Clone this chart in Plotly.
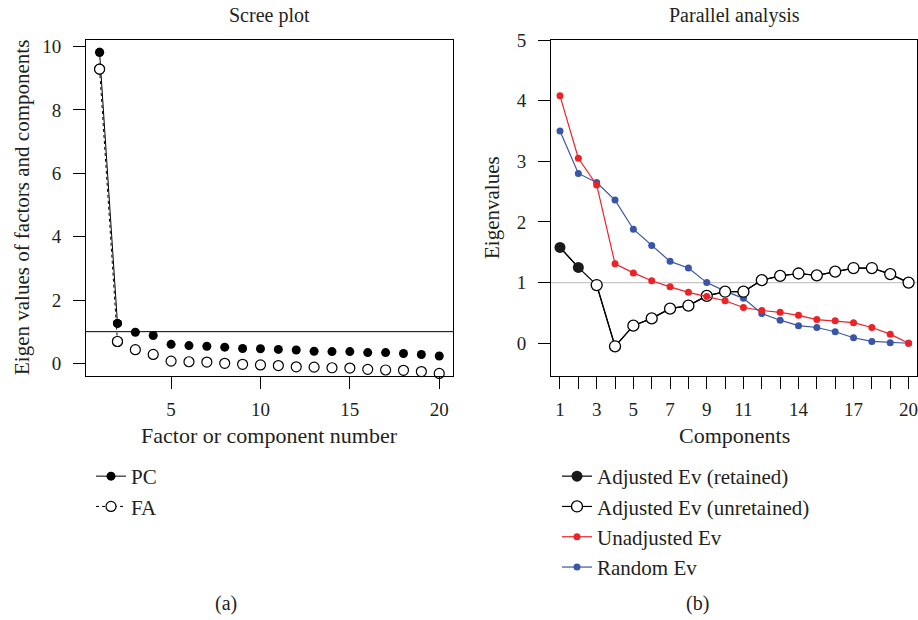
import plotly.graph_objects as go

# ---------------- data ----------------
factor_num = list(range(1, 21))
pc_values = [9.82, 1.26, 0.98, 0.88, 0.60, 0.56, 0.54, 0.51, 0.47, 0.46,
             0.44, 0.42, 0.38, 0.37, 0.37, 0.34, 0.34, 0.31, 0.28, 0.23]
fa_values = [9.29, 0.69, 0.43, 0.28, 0.07, 0.05, 0.04, 0.00, -0.03, -0.05,
             -0.07, -0.11, -0.12, -0.14, -0.15, -0.19, -0.21, -0.22, -0.26, -0.32]

components = list(range(1, 21))
adjusted_ev = [1.58, 1.25, 0.96, -0.05, 0.29, 0.41, 0.57, 0.62, 0.78, 0.85,
               0.85, 1.04, 1.11, 1.15, 1.12, 1.18, 1.24, 1.24, 1.14, 1.00]
n_retained = 2
unadjusted_ev = [4.08, 3.05, 2.61, 1.31, 1.16, 1.03, 0.93, 0.84, 0.77, 0.70,
                 0.59, 0.54, 0.51, 0.46, 0.39, 0.37, 0.34, 0.26, 0.15, 0.00]
random_ev = [3.50, 2.80, 2.65, 2.36, 1.88, 1.61, 1.35, 1.24, 1.00, 0.86,
             0.74, 0.49, 0.38, 0.29, 0.26, 0.19, 0.09, 0.03, 0.01, 0.00]

scree_yticks = [0, 2, 4, 6, 8, 10]
scree_xticks = [5, 10, 15, 20]
pa_yticks = [0, 1, 2, 3, 4, 5]
pa_xtick_labels = ["1", "", "3", "", "5", "", "7", "", "9", "", "11", "", "",
                   "14", "", "", "17", "", "", "20"]

# ---------------- style ----------------
FONT = "Liberation Serif"
TXT = "#231f20"
RED = "#ec2227"
BLUE = "#3a55a5"
W, H = 918, 620


def px(x):
    return x / W


def py(y):
    return (H - y) / H


fig = go.Figure()

# ---- Scree plot (left) ----
fig.add_trace(go.Scatter(
    x=factor_num[:2], y=fa_values[:2], mode="lines+markers", name="FA",
    line=dict(color="black", width=1, dash="dot"),
    marker=dict(symbol="circle", size=10, color="white", line=dict(width=1.2, color="black")),
    xaxis="x", yaxis="y", legend="legend", legendrank=2, cliponaxis=False))
fig.add_trace(go.Scatter(
    x=factor_num[:2], y=pc_values[:2], mode="lines+markers", name="PC",
    line=dict(color="black", width=1),
    marker=dict(symbol="circle", size=9, color="black"),
    xaxis="x", yaxis="y", legend="legend", legendrank=1, cliponaxis=False))
fig.add_trace(go.Scatter(
    x=factor_num, y=fa_values, mode="markers", showlegend=False,
    marker=dict(symbol="circle", size=10, color="white", line=dict(width=1.2, color="black")),
    xaxis="x", yaxis="y", cliponaxis=False))
fig.add_trace(go.Scatter(
    x=factor_num, y=pc_values, mode="markers", showlegend=False,
    marker=dict(symbol="circle", size=9, color="black"),
    xaxis="x", yaxis="y", cliponaxis=False))

# ---- Parallel analysis (right) ----
fig.add_trace(go.Scatter(
    x=components, y=random_ev, mode="lines+markers", name="Random Ev",
    line=dict(color=BLUE, width=1.2), marker=dict(size=7, color=BLUE),
    xaxis="x2", yaxis="y2", legend="legend2", legendrank=4))
fig.add_trace(go.Scatter(
    x=components, y=adjusted_ev, mode="lines", showlegend=False,
    line=dict(color="black", width=1.2), xaxis="x2", yaxis="y2"))
fig.add_trace(go.Scatter(
    x=components[n_retained:], y=adjusted_ev[n_retained:], mode="lines+markers",
    name="Adjusted Ev (unretained)",
    line=dict(color="black", width=1.2),
    marker=dict(symbol="circle", size=11, color="white", line=dict(width=1.3, color="black")),
    xaxis="x2", yaxis="y2", legend="legend2", legendrank=2))
fig.add_trace(go.Scatter(
    x=components[:n_retained], y=adjusted_ev[:n_retained], mode="lines+markers",
    name="Adjusted Ev (retained)",
    line=dict(color="black", width=1.2),
    marker=dict(symbol="circle", size=11, color="#1a1a1a"),
    xaxis="x2", yaxis="y2", legend="legend2", legendrank=1))
fig.add_trace(go.Scatter(
    x=components, y=unadjusted_ev, mode="lines+markers", name="Unadjusted Ev",
    line=dict(color=RED, width=1.2), marker=dict(size=7, color=RED),
    xaxis="x2", yaxis="y2", legend="legend2", legendrank=3))

axis_common = dict(showline=True, linecolor="black", linewidth=1, mirror=True,
                   ticks="outside", ticklen=12, tickcolor="black", tickwidth=1,
                   showgrid=False, zeroline=False, automargin=False,
                   ticklabeloverflow="allow",
                   tickfont=dict(family=FONT, size=19, color=TXT))

legend_common = dict(xanchor="left", yanchor="top", bgcolor="rgba(0,0,0,0)",
                     font=dict(family=FONT, size=21, color=TXT),
                     traceorder="normal", itemsizing="trace")

fig.update_layout(
    width=W, height=H,
    margin=dict(l=0, r=0, t=0, b=0, autoexpand=False),
    paper_bgcolor="white", plot_bgcolor="white",
    font=dict(family=FONT, size=21, color=TXT),
    xaxis=dict(domain=[px(86), px(453)], range=[0.24, 20.77], anchor="y",
               tickvals=scree_xticks, ticklabelstandoff=4, **axis_common),
    yaxis=dict(domain=[py(376), py(40)], range=[-0.40, 10.21], anchor="x",
               tickvals=scree_yticks, ticklabelstandoff=8, **axis_common),
    xaxis2=dict(domain=[px(551), px(917)], range=[0.51, 20.46], anchor="y2",
                tickvals=components, ticktext=pa_xtick_labels,
                ticklabelstandoff=4, **axis_common),
    yaxis2=dict(domain=[py(376), py(40)], range=[-0.54, 5.0], anchor="x2",
                tickvals=pa_yticks, ticklabelstandoff=8, **axis_common),
    legend=dict(x=px(91), y=py(456), **legend_common),
    legend2=dict(x=px(557), y=py(456), **legend_common),
    shapes=[
        dict(type="line", xref="x domain", yref="y", x0=0, x1=1, y0=1, y1=1,
             line=dict(color="black", width=1)),
        dict(type="line", xref="x2 domain", yref="y2", x0=0, x1=1, y0=1, y1=1,
             line=dict(color="#c8c8c8", width=1.2), layer="below"),
    ],
    annotations=[
        dict(text="Scree plot", x=px(269.5), y=py(16), xref="paper", yref="paper",
             showarrow=False, xanchor="center", yanchor="middle", font=dict(size=20)),
        dict(text="Parallel analysis", x=px(734), y=py(16), xref="paper", yref="paper",
             showarrow=False, xanchor="center", yanchor="middle", font=dict(size=20)),
        dict(text="Eigen values of factors and components", x=px(22), y=py(208),
             xref="paper", yref="paper", showarrow=False, textangle=-90,
             xanchor="center", yanchor="middle", font=dict(size=21)),
        dict(text="Eigenvalues", x=px(492), y=py(208),
             xref="paper", yref="paper", showarrow=False, textangle=-90,
             xanchor="center", yanchor="middle", font=dict(size=21)),
        dict(text="Factor or component number", x=px(269.5), y=py(435),
             xref="paper", yref="paper", showarrow=False,
             xanchor="center", yanchor="middle", font=dict(size=22)),
        dict(text="Components", x=px(734), y=py(435),
             xref="paper", yref="paper", showarrow=False,
             xanchor="center", yanchor="middle", font=dict(size=22)),
        dict(text="(a)", x=px(226), y=py(603), xref="paper", yref="paper",
             showarrow=False, xanchor="center", yanchor="middle", font=dict(size=20)),
        dict(text="(b)", x=px(697), y=py(603), xref="paper", yref="paper",
             showarrow=False, xanchor="center", yanchor="middle", font=dict(size=20)),
    ],
)

# remove the default 8px page margin so the 918x620 figure fills the window exactly
fig.write_html("out.html",
               config={"displayModeBar": False},
               post_script="document.body.style.margin='0';"
                           "document.body.style.overflow='hidden';")
